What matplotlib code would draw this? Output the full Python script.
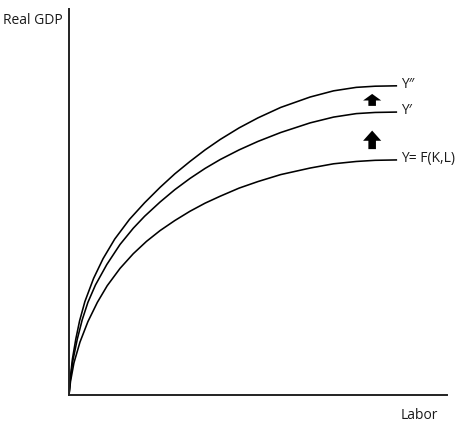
import matplotlib
matplotlib.use("Agg")
import matplotlib.pyplot as plt

# production functions (labor 0-100, real GDP 0-100)
labor_y2 = [0, 0.3, 0.9, 1.8, 2.8, 4.2, 6.5, 9, 12.1, 16, 20, 24.1, 28, 32, 36, 40, 45, 50, 56, 63.8, 70, 76, 81, 86.8]
gdp_y2 = [0, 4.0, 9.3, 14.5, 19.2, 24.2, 30.2, 35.3, 40.4, 45.5, 49.8, 53.8, 57.3, 60.5, 63.5, 66.2, 69.2, 71.8, 74.5, 77.2, 78.8, 79.7, 80.0, 80.1]

labor_y1 = [0, 0.35, 1.0, 2.2, 3.5, 5.0, 7, 10, 13.5, 17, 20, 24.1, 28, 32, 36, 40, 45, 50, 56, 63.8, 70, 76, 81, 86.8]
gdp_y1 = [0, 4.0, 8.8, 14.5, 19.5, 24.0, 28.5, 33.8, 39.0, 43.2, 46.3, 50.0, 53.2, 56.1, 58.7, 61.0, 63.5, 65.7, 68.0, 70.5, 72.0, 72.9, 73.2, 73.3]

labor_y0 = [0, 0.4, 1.3, 2.9, 5.0, 7.5, 10.1, 13.5, 17, 20.5, 24.1, 28, 32, 36, 40, 45, 50, 56, 63.8, 70, 76, 81, 86.8]
gdp_y0 = [0, 3.5, 8.3, 13.7, 19.0, 24.0, 28.3, 32.8, 36.6, 39.8, 42.6, 45.2, 47.6, 49.7, 51.5, 53.6, 55.3, 57.1, 58.8, 59.9, 60.5, 60.8, 60.9]

curve_labels = ["Y\u2033", "Y\u2032", "Y= F(K,L)"]

# upward shift arrows: (labor, start gdp, end gdp)
arrow_x = [80.2, 80.2]
arrow_y0 = [74.9, 63.7]
arrow_y1 = [78.0, 68.5]

fig = plt.figure(figsize=(4.74, 4.27), dpi=100)
ax = fig.add_axes([69 / 474, 31 / 427, 378 / 474, 386 / 427])
ax.set_xlim(0, 100)
ax.set_ylim(0, 100)

for sp in ["top", "right"]:
    ax.spines[sp].set_visible(False)
for sp in ["left", "bottom"]:
    ax.spines[sp].set_linewidth(1.4)
    ax.spines[sp].set_color("#222222")
ax.set_xticks([])
ax.set_yticks([])

font = ["Open Sans", "DejaVu Sans"]

curves = [(labor_y2, gdp_y2), (labor_y1, gdp_y1), (labor_y0, gdp_y0)]
for (lx, gy), lab in zip(curves, curve_labels):
    ax.plot(lx, gy, color="black", linewidth=1.15, solid_capstyle="butt")
    ax.text(lx[-1] + 1.0, gy[-1] + 0.6, lab, ha="left", va="center",
            fontsize=10, family=font, color="#1a1a1a")

for x, y0, y1 in zip(arrow_x, arrow_y0, arrow_y1):
    hl = (y1 - y0) * 0.55
    ax.arrow(x, y0, 0, y1 - y0, width=2.0, head_width=4.8, head_length=hl,
             length_includes_head=True, color="black", linewidth=0)

fig.text(63 / 474, 1 - 21 / 427, "Real GDP", ha="right", va="center",
         fontsize=10, family=font, color="#1a1a1a")
fig.text(438 / 474, 1 - 416 / 427, "Labor", ha="right", va="center",
         fontsize=10, family=font, color="#1a1a1a")

plt.savefig("out.png", dpi=100)
